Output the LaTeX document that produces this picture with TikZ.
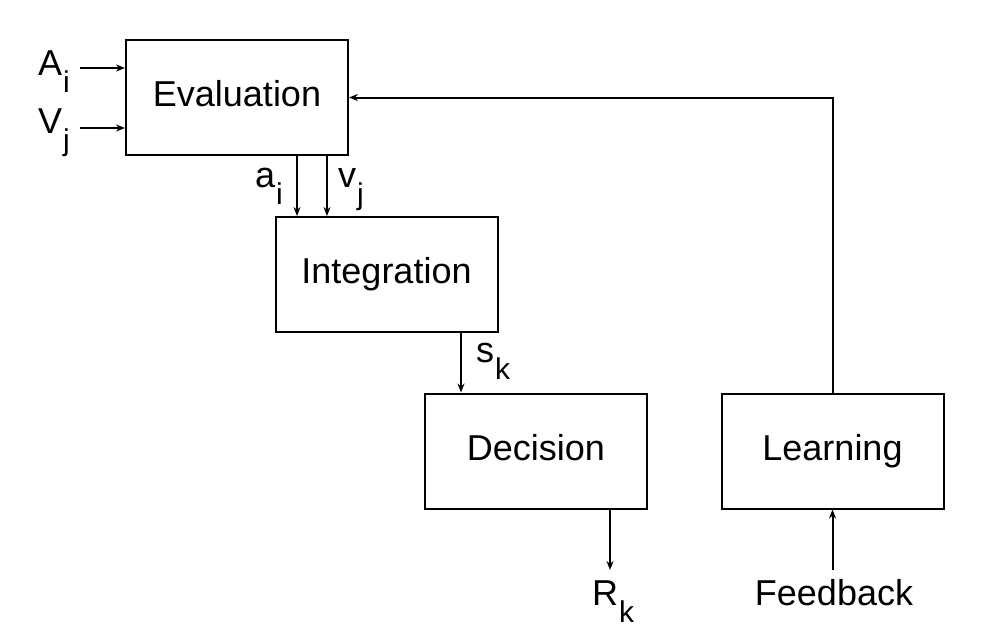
\documentclass[tikz,border=0pt]{standalone}
\usepackage{fontspec}
\setmainfont{Liberation Sans}
\usepackage{tikz}
\usetikzlibrary{arrows.meta}

\newcommand{\lowsub}[1]{\kern1pt\raisebox{-17pt}{\fontsize{30}{30}\selectfont #1}}

\tikzset{
  stagebox/.style={draw, line width=2pt, minimum width=222pt, minimum height=115pt, inner sep=0pt,
    text height=26pt, text depth=8pt},
  lbl/.style={inner sep=0pt, anchor=base west},
}

\begin{document}
\begin{tikzpicture}[x=1pt, y=-1pt, line width=2pt, >={Stealth[length=9pt,width=7pt]},
    font=\fontsize{36}{40}\selectfont]
        \useasboundingbox (0,0) rectangle (989,643);

        % Boxes
        \node[stagebox] (eval)  at (237,97.5)  {Evaluation};
        \node[stagebox] (integ) at (386.5,274.5) {Integration};
        \node[stagebox] (dec)   at (536,451)   {Decision};
        \node[stagebox] (learn) at (832.5,451) {Learning};

        % Inputs
        \node[lbl] (Ain) at (37,75)  {A\lowsub{i}};
        \node[lbl] (Vin) at (37,133) {V\lowsub{j}};
        \coordinate (Astart) at (80,68);
        \coordinate (Vstart) at (80,128);
        \draw[->] (Astart) -- (Astart -| eval.west);
        \draw[->] (Vstart) -- (Vstart -| eval.west);

        % Evaluation to integration
        \coordinate (aout) at (297,0);
        \coordinate (vout) at (327,0);
        \draw[->] (aout |- eval.south) -- (aout |- integ.north);
        \draw[->] (vout |- eval.south) -- (vout |- integ.north);
        \node[lbl] (alab) at (254,187) {a\lowsub{i}};
        \node[lbl] (vlab) at (337,187) {v\lowsub{j}};

        % Integration to decision
        \coordinate (sout) at (461,0);
        \draw[->] (sout |- integ.south) -- (sout |- dec.north);
        \node[lbl] (slab) at (475,362) {s\lowsub{k}};

        % Response
        \coordinate (Rend) at (610,570);
        \draw[->] (Rend |- dec.south) -- (Rend);
        \node[lbl] (Rout) at (591,605) {R\lowsub{k}};

        % Feedback loop
        \coordinate (Fstart) at (832.5,570);
        \draw[->] (Fstart) -- (learn.south);
        \node[inner sep=0pt, anchor=base] (fb) at (834,605) {Feedback};
        \draw[->] (learn.north) |- (eval.east);
\end{tikzpicture}
\end{document}
